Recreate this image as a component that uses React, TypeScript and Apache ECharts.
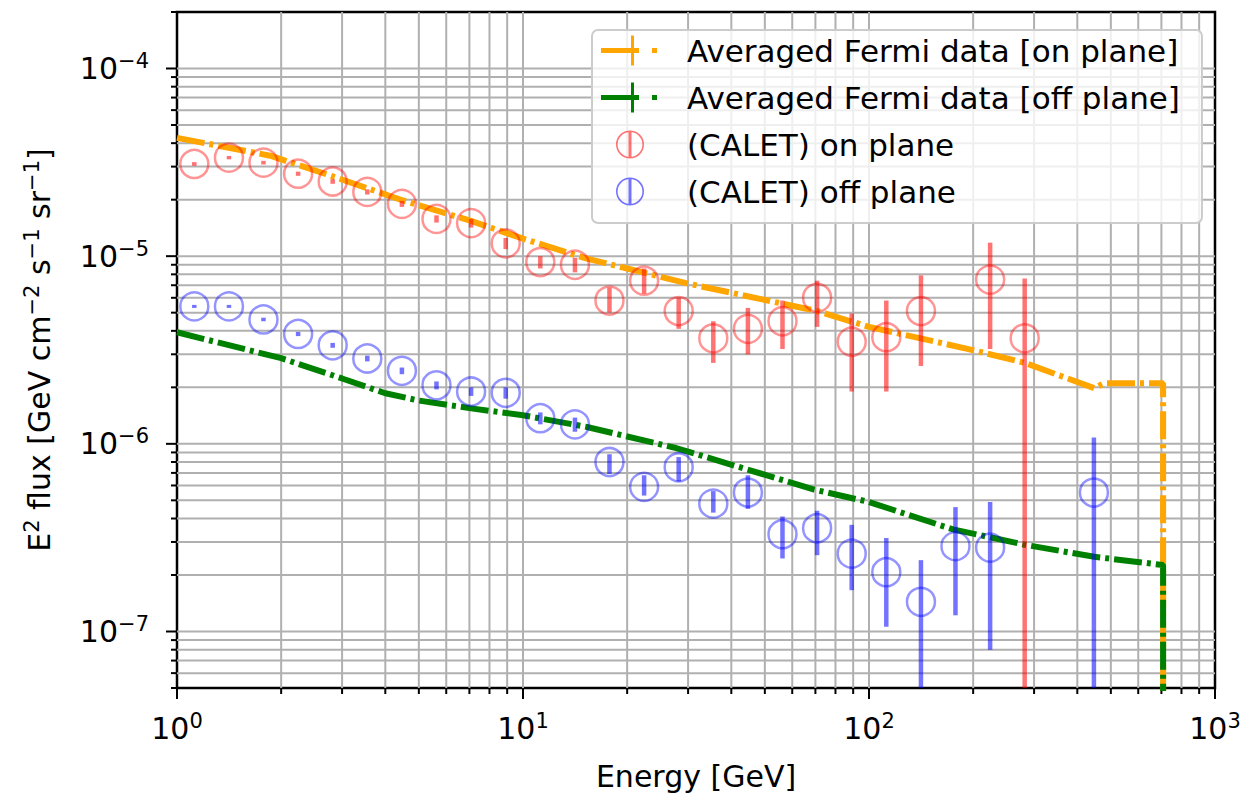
import React, { useEffect, useRef } from 'react';
import * as echarts from 'echarts';

// ---------------- data ----------------
const X_MIN = 1;
const X_MAX = 1000;
const Y_MIN = 5e-8;
const Y_MAX = 2e-4;

// Averaged Fermi data [on plane]
const fermiOnE = [1.0, 1.86, 2.77, 4.5, 7.0, 10, 15.3, 22.2, 29.4, 70.8, 100, 201, 282, 448, 478, 708, 708];
const fermiOnV = [4.27e-5, 3.43e-5, 2.69e-5, 1.98e-5, 1.55e-5, 1.24e-5, 9.7e-6, 8.2e-6, 7.2e-6, 5.1e-6, 4.2e-6, 3.15e-6, 2.7e-6, 1.98e-6, 2.1e-6, 2.1e-6, 1e-9];

// Averaged Fermi data [off plane]
const fermiOffE = [1.0, 2.0, 3.0, 4.0, 5.0, 7.0, 10, 15.3, 27.7, 69.5, 100, 175, 282, 448, 708, 708];
const fermiOffV = [3.93e-6, 2.86e-6, 2.23e-6, 1.86e-6, 1.7e-6, 1.55e-6, 1.42e-6, 1.23e-6, 9.5e-7, 5.7e-7, 4.9e-7, 3.5e-7, 2.9e-7, 2.5e-7, 2.26e-7, 1e-9];

// (CALET) on plane
const calOnE = [1.122, 1.413, 1.778, 2.239, 2.818, 3.548, 4.467, 5.623, 7.079, 8.913, 11.22, 14.13, 17.78, 22.39, 28.18, 35.48, 44.67, 56.23, 70.79, 89.13, 112.2, 141.3, 223.9, 281.8];
const calOnV = [3.1e-5, 3.35e-5, 3.15e-5, 2.75e-5, 2.5e-5, 2.2e-5, 1.9e-5, 1.58e-5, 1.5e-5, 1.17e-5, 9.3e-6, 9.0e-6, 5.8e-6, 7.4e-6, 5.1e-6, 3.65e-6, 4.1e-6, 4.5e-6, 6.0e-6, 3.5e-6, 3.7e-6, 5.1e-6, 7.5e-6, 3.65e-6];
const calOnHi = [3.17e-5, 3.42e-5, 3.22e-5, 2.82e-5, 2.57e-5, 2.27e-5, 1.97e-5, 1.65e-5, 1.58e-5, 1.25e-5, 1.0e-5, 9.8e-6, 6.8e-6, 8.6e-6, 6.0e-6, 4.5e-6, 5.3e-6, 5.8e-6, 7.4e-6, 4.95e-6, 5.8e-6, 7.9e-6, 1.18e-5, 7.6e-6];
const calOnLo = [3.03e-5, 3.28e-5, 3.08e-5, 2.68e-5, 2.43e-5, 2.13e-5, 1.83e-5, 1.51e-5, 1.42e-5, 1.09e-5, 8.6e-6, 8.2e-6, 5.0e-6, 6.3e-6, 4.1e-6, 2.7e-6, 3.0e-6, 3.2e-6, 4.2e-6, 1.9e-6, 1.9e-6, 2.6e-6, 3.2e-6, 1e-9];

// (CALET) off plane
const calOffE = [1.122, 1.413, 1.778, 2.239, 2.818, 3.548, 4.467, 5.623, 7.079, 8.913, 11.22, 14.13, 17.78, 22.39, 28.18, 35.48, 44.67, 56.23, 70.79, 89.13, 112.2, 141.3, 177.8, 223.9, 446.7];
const calOffV = [5.4e-6, 5.4e-6, 4.6e-6, 3.85e-6, 3.35e-6, 2.85e-6, 2.45e-6, 2.05e-6, 1.9e-6, 1.87e-6, 1.37e-6, 1.27e-6, 8.0e-7, 5.9e-7, 7.5e-7, 4.8e-7, 5.5e-7, 3.3e-7, 3.55e-7, 2.6e-7, 2.07e-7, 1.44e-7, 2.85e-7, 2.8e-7, 5.5e-7];
const calOffHi = [5.5e-6, 5.5e-6, 4.7e-6, 3.95e-6, 3.45e-6, 2.95e-6, 2.55e-6, 2.15e-6, 2.0e-6, 2.0e-6, 1.47e-6, 1.38e-6, 8.8e-7, 6.8e-7, 8.5e-7, 5.6e-7, 6.8e-7, 4.1e-7, 4.4e-7, 3.7e-7, 3.15e-7, 2.4e-7, 4.6e-7, 4.9e-7, 1.08e-6];
const calOffLo = [5.3e-6, 5.3e-6, 4.5e-6, 3.75e-6, 3.25e-6, 2.75e-6, 2.35e-6, 1.95e-6, 1.8e-6, 1.74e-6, 1.27e-6, 1.16e-6, 6.9e-7, 5.3e-7, 6.3e-7, 4.3e-7, 4.5e-7, 2.45e-7, 2.55e-7, 1.66e-7, 1.06e-7, 1e-9, 1.22e-7, 8.0e-8, 1e-9];

// tick positions (log axes)
const xMajorTicks = [1, 10, 100, 1000];
const xMinorTicks = [2, 3, 4, 5, 6, 7, 8, 9, 20, 30, 40, 50, 60, 70, 80, 90, 200, 300, 400, 500, 600, 700, 800, 900];
const yMajorTicks = [1e-7, 1e-6, 1e-5, 1e-4];
const yMinorTicks = [
  5e-8, 6e-8, 7e-8, 8e-8, 9e-8,
  2e-7, 3e-7, 4e-7, 5e-7, 6e-7, 7e-7, 8e-7, 9e-7,
  2e-6, 3e-6, 4e-6, 5e-6, 6e-6, 7e-6, 8e-6, 9e-6,
  2e-5, 3e-5, 4e-5, 5e-5, 6e-5, 7e-5, 8e-5, 9e-5,
  2e-4,
];

const NAMES = {
  fOn: 'Averaged Fermi data [on plane]',
  fOff: 'Averaged Fermi data [off plane]',
  cOn: '(CALET) on plane',
  cOff: '(CALET) off plane',
};

// ---------------- styles ----------------
const FONT = 'DejaVu Sans';
const ORANGE = '#ffa500';
const GREEN = '#008000';
const RED = 'rgba(255,0,0,0.55)';
const RED_RING = 'rgba(255,0,0,0.42)';
const BLUE = 'rgba(0,0,255,0.55)';
const BLUE_RING = 'rgba(0,0,255,0.42)';
const GRID = '#b0b0b0';

const supRich = {
  b: { fontFamily: FONT, fontSize: 30, lineHeight: 36, color: '#000' },
  s: { fontFamily: FONT, fontSize: 21, lineHeight: 21, verticalAlign: 'top', color: '#000' },
};

const powLabel = (v: number) => {
  const e = Math.log10(v);
  const r = Math.round(e);
  if (Math.abs(e - r) > 1e-6) return '';
  const s = r < 0 ? '\u2212' + String(-r) : String(r);
  return `{b|10}{s|${s}}`;
};

const tickSeries = (axis: 'x' | 'y', values: number[], len: number) => ({
  type: 'custom',
  silent: true,
  z: 1,
  clip: false,
  data: values.map((v) => (axis === 'x' ? [v, 1e-6] : [10, v])),
  encode: { x: 0, y: 1 },
  renderItem: (params: any, api: any) => {
    const cs = params.coordSys;
    const p = api.coord([api.value(0), api.value(1)]);
    const children: any[] = [];
    if (axis === 'x') {
      const x = p[0];
      if (x > cs.x + 1.5 && x < cs.x + cs.width - 1.5) {
        children.push({ type: 'line', shape: { x1: x, y1: cs.y, x2: x, y2: cs.y + cs.height }, style: { stroke: GRID, lineWidth: 2 } });
      }
      children.push({ type: 'line', shape: { x1: x, y1: cs.y + cs.height, x2: x, y2: cs.y + cs.height + len }, style: { stroke: '#000', lineWidth: 2 } });
    } else {
      const y = p[1];
      if (y > cs.y + 1.5 && y < cs.y + cs.height - 1.5) {
        children.push({ type: 'line', shape: { x1: cs.x, y1: y, x2: cs.x + cs.width, y2: y }, style: { stroke: GRID, lineWidth: 2 } });
      }
      children.push({ type: 'line', shape: { x1: cs.x - len, y1: y, x2: cs.x, y2: y }, style: { stroke: '#000', lineWidth: 2 } });
    }
    return { type: 'group', children };
  },
});

const caletSeries = (name: string, color: string, ring: string, E: number[], V: number[], lo: number[], hi: number[]) => ({
  type: 'custom',
  name,
  z: 4,
  clip: false,
  itemStyle: { color },
  data: E.map((e, i) => [e, V[i], lo[i], hi[i]]),
  encode: { x: 0, y: 1 },
  renderItem: (params: any, api: any) => {
    const cs = params.coordSys;
    const e = api.value(0);
    const c = api.coord([e, api.value(1)]);
    let yTop = api.coord([e, api.value(3)])[1];
    let yBot = api.coord([e, api.value(2)])[1];
    yTop = Math.max(yTop, cs.y);
    yBot = Math.min(yBot, cs.y + cs.height);
    return {
      type: 'group',
      children: [
        { type: 'circle', shape: { cx: c[0], cy: c[1], r: 14 }, style: { fill: 'none', stroke: ring, lineWidth: 2.5 } },
        { type: 'line', shape: { x1: c[0], y1: yTop, x2: c[0], y2: yBot }, style: { stroke: color, lineWidth: 4.5 } },
      ],
    };
  },
});

const fermiSeries = (name: string, color: string, E: number[], V: number[]) => ({
  type: 'line',
  name,
  z: 3,
  clip: true,
  symbol: 'none',
  silent: true,
  itemStyle: { color },
  lineStyle: { color, width: 6, type: [28, 5, 4, 5], cap: 'butt' },
  data: E.map((e, i) => [e, V[i]]),
});

const FERMI_ICON = 'path://M0 0M82 30M1 12.5h38v5H1zM31 0h3v30h-3zM52 12.5h5v5h-5z';
const CALET_ICON =
  'path://M0 0M82 30M44 15A14 14 0 1 0 16 15A14 14 0 1 0 44 15ZM42.4 15A12.4 12.4 0 1 1 17.6 15A12.4 12.4 0 1 1 42.4 15ZM28.5 1V29H31.5V1Z';

const option: any = {
  animation: false,
  backgroundColor: '#ffffff',
  textStyle: { fontFamily: FONT },
  grid: {
    left: 177,
    right: 28,
    top: 12,
    bottom: 108,
    containLabel: false,
    outerBoundsMode: 'none',
    show: true,
    borderColor: '#000',
    borderWidth: 2.5,
    backgroundColor: 'transparent',
  },
  xAxis: {
    type: 'log',
    logBase: 10,
    min: X_MIN,
    max: X_MAX,
    name: 'Energy [GeV]',
    nameLocation: 'middle',
    nameGap: 70,
    nameTextStyle: { fontFamily: FONT, fontSize: 30, lineHeight: 36, color: '#000' },
    axisLine: { show: false },
    axisTick: { show: false },
    splitLine: { show: false },
    axisLabel: {
      margin: 22,
      fontFamily: FONT,
      fontSize: 30,
      lineHeight: 36,
      color: '#000',
      formatter: powLabel,
      rich: supRich,
    },
  },
  yAxis: {
    type: 'log',
    logBase: 10,
    min: Y_MIN,
    max: Y_MAX,
    name: 'E{s|2} flux [GeV cm{s|\u22122} s{s|\u22121} sr{s|\u22121}]',
    nameLocation: 'middle',
    nameGap: 120,
    nameTextStyle: {
      fontFamily: FONT,
      fontSize: 30,
      lineHeight: 36,
      color: '#000',
      rich: { s: { fontFamily: FONT, fontSize: 21, lineHeight: 21, verticalAlign: 'top', color: '#000' } },
    },
    axisLine: { show: false },
    axisTick: { show: false },
    splitLine: { show: false },
    axisLabel: {
      margin: 28,
      fontFamily: FONT,
      fontSize: 30,
      lineHeight: 36,
      color: '#000',
      formatter: powLabel,
      rich: supRich,
    },
  },
  legend: {
    orient: 'vertical',
    left: 592,
    top: 30,
    padding: [5, 22, 16, 8],
    itemWidth: 82,
    itemHeight: 30,
    itemGap: 16,
    selectedMode: false,
    backgroundColor: 'rgba(255,255,255,0.8)',
    borderColor: '#cccccc',
    borderWidth: 2,
    borderRadius: 6,
    z: 10,
    itemStyle: { borderWidth: 0 },
    textStyle: { fontFamily: FONT, fontSize: 31, lineHeight: 30, color: '#000' },
    data: [
      { name: NAMES.fOn, icon: FERMI_ICON, itemStyle: { color: ORANGE } },
      { name: NAMES.fOff, icon: FERMI_ICON, itemStyle: { color: GREEN } },
      { name: NAMES.cOn, icon: CALET_ICON, itemStyle: { color: RED } },
      { name: NAMES.cOff, icon: CALET_ICON, itemStyle: { color: BLUE } },
    ],
  },
  series: [
    tickSeries('x', xMinorTicks, 6),
    tickSeries('x', xMajorTicks, 11),
    tickSeries('y', yMinorTicks, 6),
    tickSeries('y', yMajorTicks, 11),
    fermiSeries(NAMES.fOn, ORANGE, fermiOnE, fermiOnV),
    fermiSeries(NAMES.fOff, GREEN, fermiOffE, fermiOffV),
    caletSeries(NAMES.cOn, RED, RED_RING, calOnE, calOnV, calOnLo, calOnHi),
    caletSeries(NAMES.cOff, BLUE, BLUE_RING, calOffE, calOffV, calOffLo, calOffHi),
  ],
};

export default function App() {
  const ref = useRef<HTMLDivElement>(null);
  useEffect(() => {
    if (!ref.current) return;
    const chart = echarts.init(ref.current, null, { renderer: 'svg' });
    chart.setOption(option);
    return () => chart.dispose();
  }, []);
  return (
    <div
      ref={ref}
      style={{ position: 'absolute', left: 0, top: 0, width: 1243, height: 796, background: '#fff' }}
    />
  );
}
